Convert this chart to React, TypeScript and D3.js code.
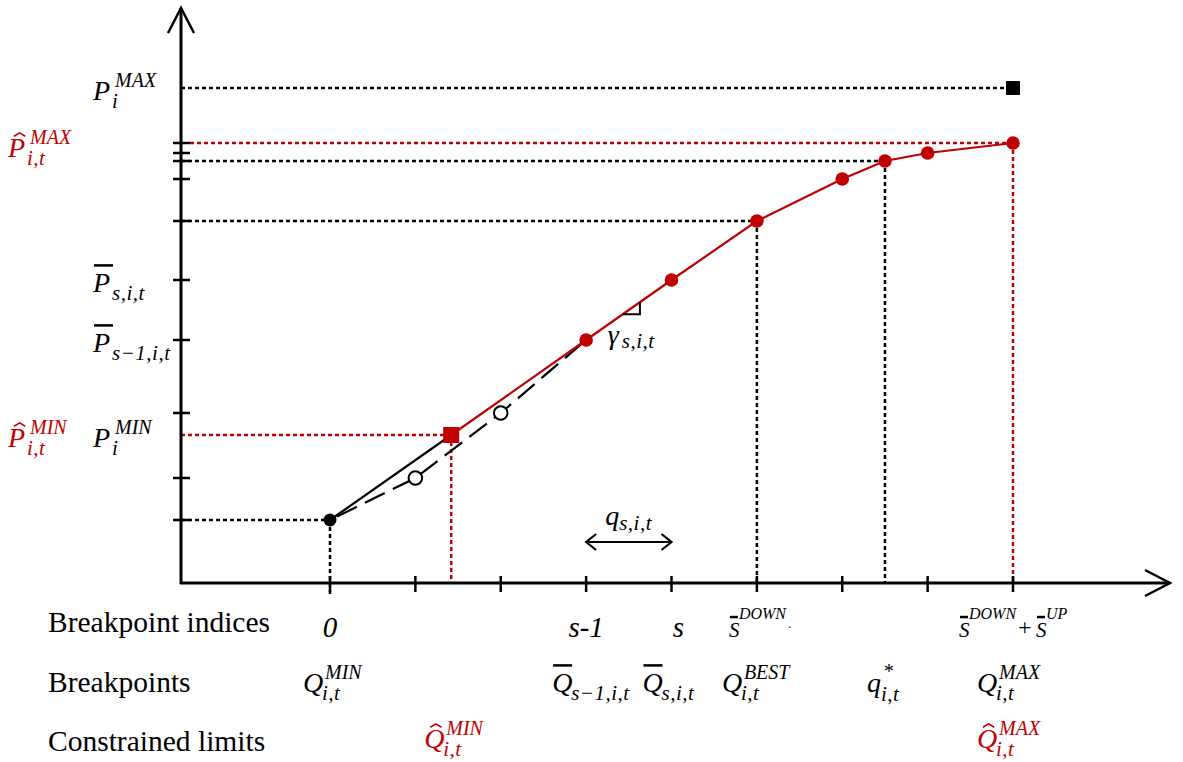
import React from 'react'
import * as d3 from 'd3'

const WIDTH = 1183
const HEIGHT = 762
const RED = '#C00000'
const MATH_FONT = "'Liberation Serif', serif"
const TEXT_FONT = "'Liberation Serif', serif"

// values (Q as breakpoint index, P in arbitrary units)
const breakpointIdx = [0, 1, 2, 3, 4, 5, 6, 7, 8]
const breakpointP = [63, 105, 170, 243, 303, 362, 404, 430, 440]
const qMinHat = { idx: 1.42, p: 148 }
const qStar = { idx: 6.5, p: 422 }
const pMax = 495
const bestIdx = 5
const maxIdx = 8
const sIdx = 4
const rowLabels = ['Breakpoint indices', 'Breakpoints', 'Constrained limits']

// layout
const AXIS_X = 181
const X_ARROW_TIP = 1170
const Y_ARROW_TIP = 8

const xScale = d3.scaleLinear().domain([0, 8]).range([330, 1013])
const yScale = d3.scaleLinear().domain([0, 500]).range([583, 83])
const AXIS_Y = yScale(0)

type Pt = [number, number]
const line = d3
  .line<Pt>()
  .x((d) => xScale(d[0]))
  .y((d) => yScale(d[1]))

const dashedCurve: Pt[] = [0, 1, 2, 3].map((i) => [i, breakpointP[i]])
const blackSegment: Pt[] = [
  [0, breakpointP[0]],
  [qMinHat.idx, qMinHat.p],
]
const redCurve: Pt[] = [
  [qMinHat.idx, qMinHat.p],
  [3, breakpointP[3]],
  [4, breakpointP[4]],
  [5, breakpointP[5]],
  [6, breakpointP[6]],
  [qStar.idx, qStar.p],
  [7, breakpointP[7]],
  [8, breakpointP[8]],
]
const redDots: Pt[] = [...redCurve.slice(1)]
const openDots: Pt[] = [1, 2].map((i) => [i, breakpointP[i]])
const yTicks = [...breakpointP, qStar.p]

interface MathProps {
  x: number
  y: number
  base: string
  w: number
  size?: number
  sup?: string
  sub?: string
  accent?: 'bar' | 'hat'
  color?: string
  supSize?: number
  subSize?: number
  supDx?: number
  subDx?: number
  supDy?: number
  subDy?: number
  subLs?: number
}

const MathLabel: React.FC<MathProps> = ({
  x,
  y,
  base,
  w,
  size = 28,
  sup,
  sub,
  accent,
  color = '#000',
  supSize = 20,
  subSize = 21,
  supDx = 2,
  subDx = -1,
  supDy = -13,
  subDy = 8,
  subLs = 0.5,
}) => (
  <g fill={color} fontFamily={MATH_FONT} fontStyle="italic">
    <text x={x} y={y} fontSize={size}>
      {base}
    </text>
    {accent === 'bar' && (
      <line x1={x + 1} x2={x + w} y1={y - size * 0.95} y2={y - size * 0.95} stroke={color} strokeWidth={2.5} />
    )}
    {accent === 'hat' && (
      <path
        d={`M${x + w * 0.3},${y - size * 0.74} L${x + w * 0.58},${y - size * 0.86} L${x + w * 0.86},${y - size * 0.74}`}
        fill="none"
        stroke={color}
        strokeWidth={1.6}
      />
    )}
    {sup && (
      <text x={x + w + supDx} y={y + supDy} fontSize={supSize}>
        {sup}
      </text>
    )}
    {sub && (
      <text x={x + w + subDx} y={y + subDy} fontSize={subSize} letterSpacing={subLs}>
        {sub}
      </text>
    )}
  </g>
)

const Dotted: React.FC<{ x1: number; y1: number; x2: number; y2: number; color?: string }> = ({
  x1,
  y1,
  x2,
  y2,
  color = '#000',
}) => <line x1={x1} y1={y1} x2={x2} y2={y2} stroke={color} strokeWidth={2.5} strokeDasharray="4 3" />

const App: React.FC = () => {
  const row1 = 637
  const row2 = 692
  const row3 = 748
  const lbl = (v: number) => yScale(v) + 12

  // slope marker for gamma
  const gA = 3.43
  const gB = 3.63
  const pAt = (i: number) => breakpointP[3] + (i - 3) * (breakpointP[4] - breakpointP[3])

  const qy = 542
  const qx1 = xScale(3)
  const qx2 = xScale(sIdx)

  return (
    <svg
      width={WIDTH}
      height={HEIGHT}
      style={{ position: 'absolute', left: 0, top: 0, background: '#fff' }}
    >
      {/* guide lines */}
      <Dotted x1={AXIS_X} y1={yScale(breakpointP[0])} x2={xScale(0)} y2={yScale(breakpointP[0])} />
      <Dotted x1={xScale(0)} y1={yScale(breakpointP[0])} x2={xScale(0)} y2={AXIS_Y + 14} />
      <Dotted x1={AXIS_X} y1={yScale(pMax)} x2={xScale(maxIdx)} y2={yScale(pMax)} />
      <Dotted x1={AXIS_X} y1={yScale(qStar.p)} x2={xScale(qStar.idx)} y2={yScale(qStar.p)} />
      <Dotted x1={xScale(qStar.idx)} y1={yScale(qStar.p)} x2={xScale(qStar.idx)} y2={AXIS_Y} />
      <Dotted x1={AXIS_X} y1={yScale(breakpointP[bestIdx])} x2={xScale(bestIdx)} y2={yScale(breakpointP[bestIdx])} />
      <Dotted x1={xScale(bestIdx)} y1={yScale(breakpointP[bestIdx])} x2={xScale(bestIdx)} y2={AXIS_Y} />
      <Dotted x1={AXIS_X + 9} y1={yScale(breakpointP[8])} x2={xScale(maxIdx)} y2={yScale(breakpointP[8])} color={RED} />
      <Dotted x1={xScale(maxIdx)} y1={yScale(breakpointP[8])} x2={xScale(maxIdx)} y2={AXIS_Y} color={RED} />
      <Dotted x1={AXIS_X} y1={yScale(qMinHat.p)} x2={xScale(qMinHat.idx)} y2={yScale(qMinHat.p)} color={RED} />
      <Dotted x1={xScale(qMinHat.idx)} y1={yScale(qMinHat.p)} x2={xScale(qMinHat.idx)} y2={AXIS_Y} color={RED} />

      {/* axes */}
      <g stroke="#000" strokeWidth={3} fill="none">
        <line x1={AXIS_X} y1={AXIS_Y + 1} x2={AXIS_X} y2={Y_ARROW_TIP} />
        <line x1={AXIS_X - 1} y1={AXIS_Y} x2={X_ARROW_TIP} y2={AXIS_Y} />
        <path d={`M${AXIS_X - 13},${Y_ARROW_TIP + 25} L${AXIS_X},${Y_ARROW_TIP} L${AXIS_X + 13},${Y_ARROW_TIP + 25}`} strokeWidth={2.5} />
        <path d={`M${X_ARROW_TIP - 25},${AXIS_Y - 13} L${X_ARROW_TIP},${AXIS_Y} L${X_ARROW_TIP - 25},${AXIS_Y + 13}`} strokeWidth={2.5} />
      </g>
      <g stroke="#000" strokeWidth={2.5}>
        {yTicks.map((v) => (
          <line key={`yt${v}`} x1={AXIS_X - 8} x2={AXIS_X + 9} y1={yScale(v)} y2={yScale(v)} />
        ))}
        {breakpointIdx.map((i) => (
          <line key={`xt${i}`} x1={xScale(i)} x2={xScale(i)} y1={AXIS_Y - 7} y2={AXIS_Y + 9} />
        ))}
      </g>

      {/* curves */}
      <path d={line(dashedCurve) ?? ''} fill="none" stroke="#000" strokeWidth={2.2} strokeDasharray="22 9" strokeDashoffset={-8} />
      <path d={line(blackSegment) ?? ''} fill="none" stroke="#000" strokeWidth={2.2} />
      <path d={line(redCurve) ?? ''} fill="none" stroke={RED} strokeWidth={2.2} />

      {/* gamma slope marker */}
      <path
        d={`M${xScale(gA)},${yScale(pAt(gA))} H${xScale(gB)} V${yScale(pAt(gB))}`}
        fill="none"
        stroke="#000"
        strokeWidth={2}
      />

      {/* markers */}
      <circle cx={xScale(0)} cy={yScale(breakpointP[0])} r={6.5} fill="#000" />
      {openDots.map((d) => (
        <circle key={`o${d[0]}`} cx={xScale(d[0])} cy={yScale(d[1])} r={6.8} fill="#fff" stroke="#000" strokeWidth={2} />
      ))}
      {redDots.map((d) => (
        <circle key={`r${d[0]}`} cx={xScale(d[0])} cy={yScale(d[1])} r={6.8} fill={RED} />
      ))}
      <rect x={xScale(qMinHat.idx) - 8} y={yScale(qMinHat.p) - 8} width={16} height={16} fill={RED} />
      <rect x={xScale(maxIdx) - 7} y={yScale(pMax) - 7} width={14} height={14} fill="#000" />

      {/* q_{s,i,t} double arrow */}
      <g stroke="#000" strokeWidth={2.2} fill="none">
        <line x1={qx1} x2={qx2} y1={qy} y2={qy} />
        <path d={`M${qx1 + 10},${qy - 8} L${qx1},${qy} L${qx1 + 10},${qy + 8}`} />
        <path d={`M${qx2 - 10},${qy - 8} L${qx2},${qy} L${qx2 - 10},${qy + 8}`} />
      </g>
      <MathLabel x={qx1 + 19} y={qy - 17} base="q" w={14} sub="s,i,t" subDx={0} subDy={5} />
      <MathLabel x={xScale(gA) - 15} y={344} base="γ" w={13} sub="s,i,t" subDx={1} subDy={4} />

      {/* y labels */}
      <MathLabel x={93} y={lbl(pMax)} base="P" w={20} sup="MAX" sub="i" />
      <MathLabel x={8} y={lbl(breakpointP[8]) + 2} base="P" w={20} sup="MAX" sub="i,t" accent="hat" color={RED} />
      <MathLabel x={93} y={lbl(breakpointP[4])} base="P" w={20} sub="s,i,t" accent="bar" />
      <MathLabel x={93} y={lbl(breakpointP[3])} base="P" w={20} sub="s−1,i,t" accent="bar" />
      <MathLabel x={8} y={lbl(qMinHat.p)} base="P" w={20} sup="MIN" sub="i,t" accent="hat" color={RED} />
      <MathLabel x={93} y={lbl(qMinHat.p)} base="P" w={20} sup="MIN" sub="i" />

      {/* row labels */}
      <g fontFamily={TEXT_FONT} fontSize={29.5} fill="#000">
        {rowLabels.map((t, i) => (
          <text key={t} x={48} y={[row1 - 5, row2, row3 + 3][i]}>
            {t}
          </text>
        ))}
      </g>

      {/* breakpoint indices */}
      <g fontFamily={MATH_FONT} fontStyle="italic" fontSize={29} fill="#000" textAnchor="middle">
        <text x={xScale(0)} y={row1}>0</text>
        <text x={xScale(3)} y={row1}>s-1</text>
        <text x={xScale(sIdx) + 7} y={row1}>s</text>
        <text x={xScale(bestIdx) + 33} y={row1 - 9} fontSize={12}>.</text>
      </g>
      <MathLabel x={xScale(bestIdx) - 28} y={row1} base="S" w={9} size={21} sup="DOWN" supSize={16} supDx={1} supDy={-18} accent="bar" />
      <MathLabel x={xScale(maxIdx) - 54} y={row1} base="S" w={9} size={21} sup="DOWN" supSize={16} supDx={1} supDy={-18} accent="bar" />
      <text x={xScale(maxIdx) + 5} y={row1 - 2} fontFamily={MATH_FONT} fontSize={24}>+</text>
      <MathLabel x={xScale(maxIdx) + 23} y={row1} base="S" w={9} size={21} sup="UP" supSize={16} supDx={1} supDy={-18} accent="bar" />

      {/* breakpoints */}
      <MathLabel x={xScale(0) - 27} y={row2} base="Q" w={20} sup="MIN" sub="i,t" />
      <MathLabel x={xScale(3) - 34} y={row2} base="Q" w={20} sub="s−1,i,t" accent="bar" />
      <MathLabel x={xScale(sIdx) - 29} y={row2} base="Q" w={20} sub="s,i,t" accent="bar" />
      <MathLabel x={xScale(bestIdx) - 35} y={row2} base="Q" w={20} sup="BEST" sub="i,t" />
      <MathLabel x={xScale(qStar.idx) - 18} y={row2} base="q" w={15} sup="*" supDy={-14} supDx={1} sub="i,t" subDy={9} />
      <MathLabel x={xScale(maxIdx) - 36} y={row2} base="Q" w={20} sup="MAX" sub="i,t" />

      {/* constrained limits */}
      <MathLabel x={xScale(qMinHat.idx) - 27} y={row3} base="Q" w={20} sup="MIN" sub="i,t" accent="hat" color={RED} />
      <MathLabel x={xScale(maxIdx) - 36} y={row3} base="Q" w={20} sup="MAX" sub="i,t" accent="hat" color={RED} />
    </svg>
  )
}

export default App
